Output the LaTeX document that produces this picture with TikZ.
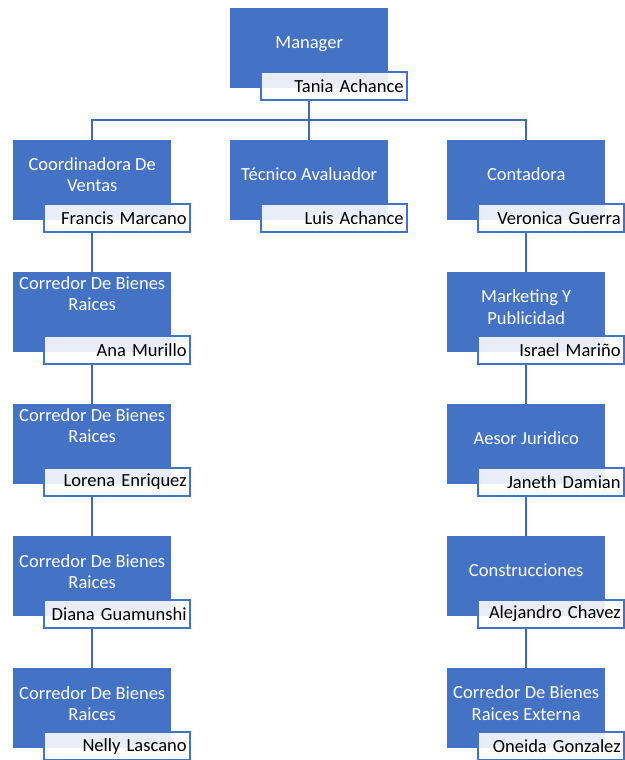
\documentclass[tikz,border=0pt]{standalone}
\usepackage{fontspec}
\setmainfont{Carlito}
\usetikzlibrary{calc}
\definecolor{boxblue}{HTML}{4472C4}
\definecolor{lineblue}{HTML}{3D69B5}
\newcommand\orgunit[6]{%
  \node[role] (#1) at (#2,#3) {};
  \node[title] (#1t) at ($(#1.north)+(0,#6)$) {#4};
  \node[person] (#1p) at ($(#1.north west)+(30,63)$) {#5};
}
\begin{document}
\begin{tikzpicture}[x=1pt,y=-1pt,
  role/.style={fill=boxblue, draw=none, minimum width=158pt, minimum height=80pt, anchor=north west, inner sep=0pt},
  title/.style={text=white, align=center, font=\fontsize{18.5}{21.5}\selectfont, inner sep=0pt},
  person/.style={fill=white, fill opacity=0.88, text opacity=1, draw=boxblue, line width=2.2pt, minimum width=146pt, minimum height=28pt, text width=139pt, align=right, inner xsep=3.5pt, inner ysep=0pt, anchor=north west, font=\fontsize{18.5}{21.5}\selectfont},
  conn/.style={draw=lineblue, line width=2.2pt}]
\useasboundingbox (0,0) rectangle (624,760);
% units
\orgunit{m}{230}{8}{Manager}{Tania Achance}{36.5}
\orgunit{c1}{13}{140}{Coordinadora De\\Ventas}{Francis Marcano}{34.5}
\orgunit{c2}{230}{140}{Técnico Avaluador}{Luis Achance}{34.5}
\orgunit{c3}{447}{140}{Contadora}{Veronica Guerra}{34.5}
\orgunit{l2}{13}{272}{Corredor De Bienes\\Raices}{Ana Murillo}{21.5}
\orgunit{l3}{13}{404}{Corredor De Bienes\\Raices}{Lorena Enriquez}{21.5}
\orgunit{l4}{13}{536}{Corredor De Bienes\\Raices}{Diana Guamunshi}{35.5}
\orgunit{l5}{13}{668}{Corredor De Bienes\\Raices}{Nelly Lascano}{35.5}
\orgunit{r2}{447}{272}{Marketing Y\\Publicidad}{Israel Mariño}{35}
\orgunit{r3}{447}{404}{Aesor Juridico}{Janeth Damian}{34.5}
\orgunit{r4}{447}{536}{Construcciones}{Alejandro Chavez}{34.5}
\orgunit{r5}{447}{668}{Corredor De Bienes\\Raices Externa}{Oneida Gonzalez}{35}
% connectors
\draw[conn] (m.center |- mp.south) -- ++(0,19) coordinate (j);
\draw[conn] (c1.north) |- (j) -| (c3.north);
\draw[conn] (j) -- (c2.north);
\draw[conn] (c1.center |- c1p.south) -- (l2.north);
\draw[conn] (l2.center |- l2p.south) -- (l3.north);
\draw[conn] (l3.center |- l3p.south) -- (l4.north);
\draw[conn] (l4.center |- l4p.south) -- (l5.north);
\draw[conn] (c3.center |- c3p.south) -- (r2.north);
\draw[conn] (r2.center |- r2p.south) -- (r3.north);
\draw[conn] (r3.center |- r3p.south) -- (r4.north);
\draw[conn] (r4.center |- r4p.south) -- (r5.north);
\end{tikzpicture}
\end{document}
